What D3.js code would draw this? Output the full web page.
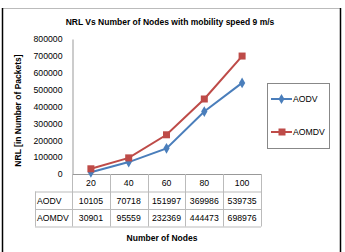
<!DOCTYPE html>
<html>
<head>
<meta charset="utf-8">
<script src="https://cdn.jsdelivr.net/npm/d3@7"></script>
<style>
body { margin: 0; background: #fff; }
text { font-family: "Liberation Sans", Arial, sans-serif; fill: #000; }
</style>
</head>
<body>
<svg id="chart"></svg>
<script>
const nodes = ['20', '40', '60', '80', '100'];
const aodv = [10105, 70718, 151997, 369986, 539735];
const aomdv = [30901, 95559, 232369, 444473, 698976];
const seriesNames = ['AODV', 'AOMDV'];
const yTicks = [0, 100000, 200000, 300000, 400000, 500000, 600000, 700000, 800000];

function makeChart() {
	let w = 345;
	let h = 252;
	let plotL = 72, plotR = 261, plotT = 39, plotB = 174;
	let rowH = 17.5;
	let colors = ['#4a7ebb', '#be4b48'];
	let series = [aodv, aomdv];

	let chart = d3.select('#chart')
		.attr('width', w)
		.attr('height', h);

	// outer frame
	chart.append('line').attr('x1', 2).attr('x2', 340).attr('y1', 8.5).attr('y2', 8.5)
		.attr('stroke', '#bbb');
	chart.append('line').attr('x1', 2.5).attr('x2', 2.5).attr('y1', 8).attr('y2', h)
		.attr('stroke', '#000').attr('stroke-width', 1.5);
	chart.append('line').attr('x1', 340.5).attr('x2', 340.5).attr('y1', 8).attr('y2', h)
		.attr('stroke', '#000').attr('stroke-width', 1.5);

	chart.append('text')
		.attr('x', 170).attr('y', 25)
		.attr('text-anchor', 'middle')
		.style('font-size', '8.5px').style('font-weight', 'bold')
		.text('NRL Vs Number of Nodes with mobility speed 9 m/s');

	let xScale = d3.scaleBand()
		.domain(nodes)
		.range([plotL, plotR]);

	let yScale = d3.scaleLinear()
		.domain([0, 800000])
		.range([plotB, plotT]);

	// y axis
	let yAxis = d3.axisLeft(yScale).tickValues(yTicks).tickSize(0).tickPadding(10)
		.tickFormat(d3.format('d'));
	let gy = chart.append('g').attr('transform', `translate(${plotL + 0.5},0)`).call(yAxis);
	gy.select('.domain').attr('stroke', '#999');
	gy.selectAll('text').style('font-size', '8.7px').style('font-family', '"Liberation Sans", Arial, sans-serif');

	chart.append('text')
		.attr('transform', `translate(21,${(plotT + plotB) / 2 + 4}) rotate(-90)`)
		.attr('text-anchor', 'middle')
		.style('font-size', '8.5px').style('font-weight', 'bold')
		.text('NRL [in Number of Packets]');

	// data table below
	let grid = '#bbb';
	let tableL = 35;
	let g = chart.append('g');
	// horizontal lines
	g.append('line').attr('x1', plotL).attr('x2', plotR).attr('y1', plotB + 0.5).attr('y2', plotB + 0.5).attr('stroke', '#999');
	[1, 2, 3].forEach(r => {
		g.append('line').attr('x1', tableL).attr('x2', plotR)
			.attr('y1', plotB + r * rowH + 0.5).attr('y2', plotB + r * rowH + 0.5)
			.attr('stroke', grid);
	});
	// vertical lines
	nodes.forEach((n, i) => {
		let x = Math.round(xScale(n)) + 0.5;
		g.append('line').attr('x1', x).attr('x2', x).attr('y1', plotB).attr('y2', plotB + 3 * rowH)
			.attr('stroke', grid);
	});
	g.append('line').attr('x1', plotR + 0.5).attr('x2', plotR + 0.5).attr('y1', plotB).attr('y2', plotB + 3 * rowH)
		.attr('stroke', grid);
	g.append('line').attr('x1', tableL + 0.5).attr('x2', tableL + 0.5).attr('y1', plotB + rowH).attr('y2', plotB + 3 * rowH)
		.attr('stroke', grid);

	g.selectAll('.hdr').data(nodes).enter().append('text')
		.attr('x', d => xScale(d) + xScale.bandwidth() / 2)
		.attr('y', plotB + rowH / 2 + 3.5)
		.attr('text-anchor', 'middle')
		.style('font-size', '8.7px')
		.text(d => d);

	series.forEach((vals, si) => {
		let y = plotB + (si + 1) * rowH + rowH / 2 + 3.5;
		g.append('text').attr('x', tableL + 2).attr('y', y)
			.style('font-size', '8.7px').text(seriesNames[si]);
		g.selectAll('.v' + si).data(vals).enter().append('text')
			.attr('x', (d, i) => xScale(nodes[i]) + xScale.bandwidth() / 2)
			.attr('y', y)
			.attr('text-anchor', 'middle')
			.style('font-size', '8.7px')
			.text(d => d);
	});

	chart.append('text')
		.attr('x', 162).attr('y', 241)
		.attr('text-anchor', 'middle')
		.style('font-size', '8.5px').style('font-weight', 'bold')
		.text('Number of Nodes');

	// lines
	let line = d3.line()
		.x((d, i) => xScale(nodes[i]) + xScale.bandwidth() / 2)
		.y(d => yScale(d));

	series.forEach((vals, si) => {
		chart.append('path').datum(vals)
			.attr('d', line)
			.attr('fill', 'none')
			.attr('stroke', colors[si])
			.attr('stroke-width', 2);
	});

	// markers
	chart.selectAll('.m0').data(aodv).enter().append('path')
		.attr('transform', (d, i) => `translate(${xScale(nodes[i]) + xScale.bandwidth() / 2},${yScale(d)})`)
		.attr('d', d3.symbol(d3.symbolDiamond, 34)())
		.attr('fill', colors[0]);
	chart.selectAll('.m1').data(aomdv).enter().append('rect')
		.attr('x', (d, i) => xScale(nodes[i]) + xScale.bandwidth() / 2 - 3.5)
		.attr('y', d => yScale(d) - 3.5)
		.attr('width', 7).attr('height', 7)
		.attr('fill', colors[1]);

	// legend
	let lg = chart.append('g');
	lg.append('rect').attr('x', 267.5).attr('y', 83.5).attr('width', 62).attr('height', 65)
		.attr('fill', 'none').attr('stroke', '#888');
	seriesNames.forEach((name, si) => {
		let y = si === 0 ? 99 : 132;
		lg.append('line').attr('x1', 271).attr('x2', 292).attr('y1', y).attr('y2', y)
			.attr('stroke', colors[si]).attr('stroke-width', 2);
		if (si === 0) {
			lg.append('path').attr('transform', `translate(281.5,${y})`)
				.attr('d', d3.symbol(d3.symbolDiamond, 30)()).attr('fill', colors[0]);
		} else {
			lg.append('rect').attr('x', 278.5).attr('y', y - 3.5).attr('width', 7).attr('height', 7)
				.attr('fill', colors[1]);
		}
		lg.append('text').attr('x', 293).attr('y', y + 3.2)
			.style('font-size', '8.7px').text(name);
	});
}

window.onload = function () {
	makeChart();
}
</script>
</body>
</html>
